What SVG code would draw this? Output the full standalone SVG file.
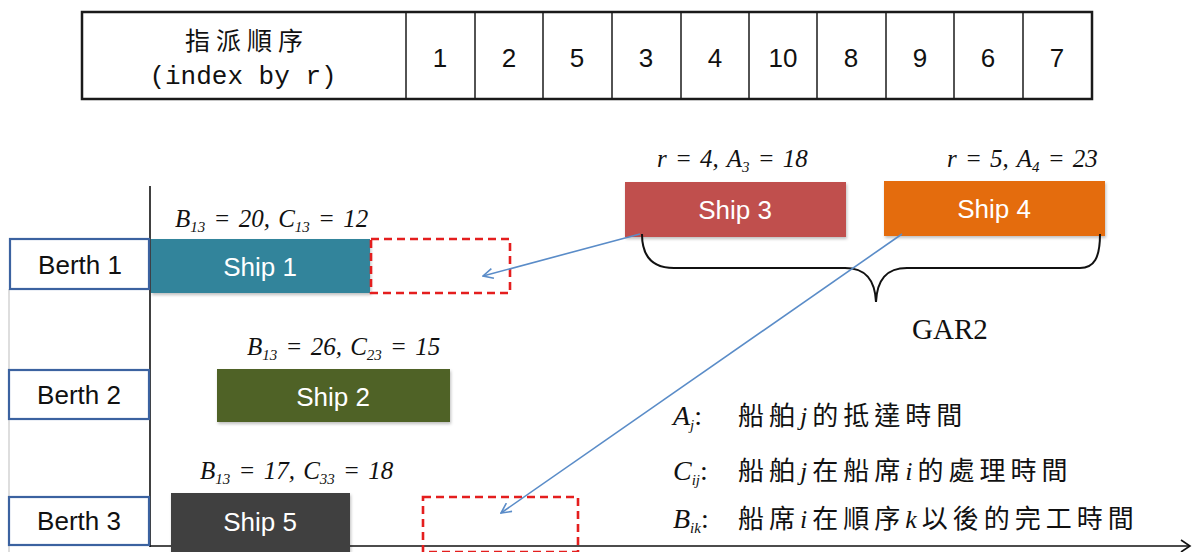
<svg xmlns="http://www.w3.org/2000/svg" width="1201" height="552" viewBox="0 0 1201 552">
  <style>
    .cell { fill: none; stroke: #1a1a1a; stroke-width: 2.5; }
    .sep { stroke: #1a1a1a; stroke-width: 1.5; }
    .num { font-family: "Liberation Sans", Arial, sans-serif; font-size: 26px; fill: #111; text-anchor: middle; }
    .hdr { font-family: "Noto Sans CJK TC", "Noto Sans CJK SC", sans-serif; font-size: 25px; fill: #111; text-anchor: middle; letter-spacing: 6px; }
    .hdr-en { font-family: "Liberation Mono", "Courier New", monospace; font-size: 26px; fill: #111; text-anchor: middle; }
    .berth { fill: #fff; stroke: #3b62a0; stroke-width: 2.2; }
    .berth-t { font-family: "Liberation Sans", Arial, sans-serif; font-size: 26px; fill: #111; text-anchor: middle; }
    .ship-t { font-family: "Liberation Sans", Arial, sans-serif; font-size: 26px; fill: #fff; text-anchor: middle; }
    .math { font-family: "Liberation Serif", "Times New Roman", serif; font-style: italic; font-size: 25px; fill: #111; word-spacing: 2px; }
    .sub { font-size: 15px; }
    .big { font-size: 28px; }
    .slot { fill: none; stroke: #e41e1e; stroke-width: 2.6; stroke-dasharray: 8 5; }
    .link { fill: none; stroke: #5a8cc8; stroke-width: 1.6; }
    .axis { fill: none; stroke: #111; stroke-width: 1.6; }
    .legend { font-family: "Noto Sans CJK TC", "Noto Sans CJK SC", sans-serif; font-size: 26px; fill: #111; letter-spacing: 5px; }
    .lat { font-family: "Liberation Serif", serif; font-style: italic; }
  </style>
  <defs>
    <marker id="open-arrow" viewBox="0 0 12 12" refX="11" refY="6" markerWidth="12" markerHeight="12" markerUnits="userSpaceOnUse" orient="auto">
      <path d="M1,1 L11,6 L1,11" fill="none" stroke="#5a8cc8" stroke-width="1.6"/>
    </marker>
    <filter id="shadow" x="-5%" y="-10%" width="110%" height="130%">
      <feDropShadow dx="1" dy="2" stdDeviation="1.5" flood-color="#000" flood-opacity="0.25"/>
    </filter>
  </defs>

  <!-- assignment order table -->
  <g id="order-table">
    <rect class="cell" x="82" y="12" width="1010" height="87"/>
    <line class="sep" x1="406" y1="12" x2="406" y2="99"/>
    <line class="sep" x1="475" y1="12" x2="475" y2="99"/>
    <line class="sep" x1="543" y1="12" x2="543" y2="99"/>
    <line class="sep" x1="612" y1="12" x2="612" y2="99"/>
    <line class="sep" x1="681" y1="12" x2="681" y2="99"/>
    <line class="sep" x1="749" y1="12" x2="749" y2="99"/>
    <line class="sep" x1="817" y1="12" x2="817" y2="99"/>
    <line class="sep" x1="886" y1="12" x2="886" y2="99"/>
    <line class="sep" x1="954" y1="12" x2="954" y2="99"/>
    <line class="sep" x1="1023" y1="12" x2="1023" y2="99"/>
    <text class="hdr" x="247" y="50">指派順序</text>
    <text class="hdr-en" x="243" y="84">(index by r)</text>
    <text class="num" x="440" y="67">1</text>
    <text class="num" x="509" y="67">2</text>
    <text class="num" x="577" y="67">5</text>
    <text class="num" x="646" y="67">3</text>
    <text class="num" x="715" y="67">4</text>
    <text class="num" x="783" y="67">10</text>
    <text class="num" x="851" y="67">8</text>
    <text class="num" x="920" y="67">9</text>
    <text class="num" x="988" y="67">6</text>
    <text class="num" x="1057" y="67">7</text>
  </g>

  <!-- axes -->
  <g id="axes">
    <line x1="9" y1="289" x2="9" y2="552" stroke="#c8c8c8" stroke-width="1.2"/>
    <line class="axis" x1="150" y1="186" x2="150" y2="547"/>
    <line class="axis" x1="150" y1="546" x2="1189" y2="546"/>
    <path class="axis" d="M1181,540 L1190,546 L1181,552"/>
  </g>

  <!-- berths -->
  <g id="berth-1">
    <rect class="berth" x="10" y="239" width="139" height="50"/>
    <text class="berth-t" x="80" y="274">Berth 1</text>
  </g>
  <g id="berth-2">
    <rect class="berth" x="9" y="370" width="140" height="49"/>
    <text class="berth-t" x="79" y="404">Berth 2</text>
  </g>
  <g id="berth-3">
    <rect class="berth" x="9" y="497" width="140" height="48"/>
    <text class="berth-t" x="79" y="530">Berth 3</text>
  </g>

  <!-- scheduled ships -->
  <g id="ship-1">
    <rect x="151" y="239" width="219" height="54" fill="#31849b" filter="url(#shadow)"/>
    <text class="ship-t" x="260" y="276">Ship 1</text>
    <text class="math" x="175" y="227">B<tspan class="sub" dy="5">13</tspan><tspan dy="-5"> = 20,  C</tspan><tspan class="sub" dy="5">13</tspan><tspan dy="-5"> = 12</tspan></text>
  </g>
  <g id="ship-2">
    <rect x="217" y="369" width="233" height="53" fill="#4f6228" filter="url(#shadow)"/>
    <text class="ship-t" x="333" y="406">Ship 2</text>
    <text class="math" x="247" y="355">B<tspan class="sub" dy="5">13</tspan><tspan dy="-5"> = 26, C</tspan><tspan class="sub" dy="5">23</tspan><tspan dy="-5"> = 15</tspan></text>
  </g>
  <g id="ship-5">
    <rect x="171" y="493" width="179" height="59" fill="#404040" filter="url(#shadow)"/>
    <text class="ship-t" x="260" y="531">Ship 5</text>
    <text class="math" x="200" y="479">B<tspan class="sub" dy="5">13</tspan><tspan dy="-5"> = 17, C</tspan><tspan class="sub" dy="5">33</tspan><tspan dy="-5"> = 18</tspan></text>
  </g>

  <!-- candidate slots -->
  <g id="slot-berth-1">
    <rect class="slot" x="371" y="239" width="139" height="54"/>
  </g>
  <g id="slot-berth-3">
    <rect class="slot" x="423" y="497" width="155" height="55"/>
  </g>

  <!-- ships waiting in GAR2 -->
  <g id="ship-3">
    <rect x="625" y="182" width="221" height="55" fill="#c0504d" filter="url(#shadow)"/>
    <text class="ship-t" x="735" y="219">Ship 3</text>
    <text class="math" x="657" y="167">r = 4, A<tspan class="sub" dy="5">3</tspan><tspan dy="-5"> = 18</tspan></text>
  </g>
  <g id="ship-4">
    <rect x="884" y="181" width="221" height="55" fill="#e46c0a" filter="url(#shadow)"/>
    <text class="ship-t" x="994" y="218">Ship 4</text>
    <text class="math" x="947" y="167">r = 5, A<tspan class="sub" dy="5">4</tspan><tspan dy="-5"> = 23</tspan></text>
  </g>

  <!-- GAR2 brace -->
  <g id="gar2">
    <path d="M642,234 C642,256 652,268 674,268 L845,268 C866,268 875,280 876,302 C877,280 886,268 907,268 L1080,268 C1094,268 1100,258 1100,234" fill="none" stroke="#111" stroke-width="2"/>
    <text x="912" y="339" font-family="Liberation Serif, serif" font-size="29" fill="#111">GAR2</text>
  </g>

  <!-- connectors -->
  <g id="connectors">
    <line class="link" x1="640" y1="234" x2="483" y2="276" marker-end="url(#open-arrow)"/>
    <line class="link" x1="902" y1="234" x2="501" y2="513" marker-end="url(#open-arrow)"/>
  </g>

  <!-- notation -->
  <g id="legend">
    <text class="math big" x="673" y="425">A<tspan class="sub" dy="5">j</tspan><tspan dy="-5" font-style="normal">:</tspan></text>
    <text class="legend" x="738" y="425">船舶<tspan class="lat">j</tspan>的抵達時間</text>
    <text class="math big" x="673" y="480">C<tspan class="sub" dy="5">ij</tspan><tspan dy="-5" font-style="normal">:</tspan></text>
    <text class="legend" x="738" y="480">船舶<tspan class="lat">j</tspan>在船席<tspan class="lat">i</tspan>的處理時間</text>
    <text class="math big" x="673" y="528">B<tspan class="sub" dy="5">ik</tspan><tspan dy="-5" font-style="normal">:</tspan></text>
    <text class="legend" x="738" y="528">船席<tspan class="lat">i</tspan>在順序<tspan class="lat">k</tspan>以後的完工時間</text>
  </g>
</svg>
